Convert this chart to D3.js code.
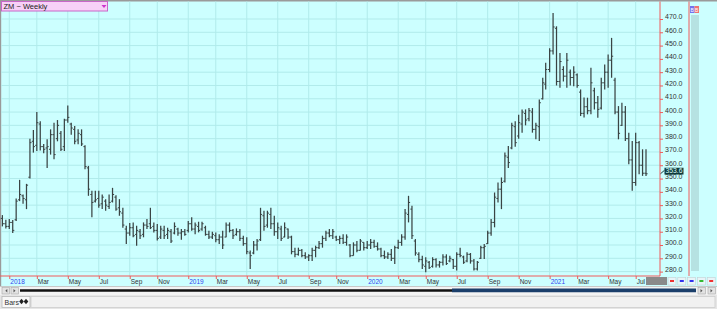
<!DOCTYPE html>
<html>
<head>
<meta charset="utf-8">
<script src="https://cdn.jsdelivr.net/npm/d3@7"></script>
<style>
  body { margin: 0; background: #fff; }
  svg { display: block; font-family: "Liberation Sans", Arial, sans-serif; }
</style>
</head>
<body>
<div id="chart"></div>
<script>
// weekly bars, Dec 22 2017 .. Jul 23 2021 (188 weeks)
const firstWeek = new Date(2017, 11, 22);
const lastWeek = new Date(2021, 6, 23);

const opens = [
  320, 316, 314, 317, 319, 334, 337, 334, 351, 378,   // -2..7
  375, 391, 374, 373, 372, 383, 380, 384, 374, 394,
  391, 387, 379, 383, 374, 358, 338, 333, 335, 331,
  333, 329, 333, 336, 328, 324, 312, 309, 313, 308,
  310, 308, 315, 316, 314, 311, 306, 311, 308, 310,
  309, 312, 309, 310, 311, 316, 312, 314, 312, 313,
  308, 306, 307, 304, 306, 306, 315, 311, 308, 310,
  305, 301, 294, 294, 300, 304, 322, 315, 323, 316,
  310, 312, 306, 312, 306, 295, 293, 296, 292, 291,
  292, 296, 298, 301, 305, 309, 307, 306, 304, 305,
  302, 300, 292, 300, 296, 302, 298, 300, 302, 299,
  297, 292, 291, 293, 290, 298, 302, 306, 323, 327,
  303, 293, 289, 284, 287, 284, 289, 285, 287, 291,
  288, 289, 284, 293, 291, 288, 293, 288, 282, 290,
  298, 301, 309, 317, 335, 342, 348, 366, 373, 389,
  382, 391, 399, 395, 400, 387, 389, 410, 421, 432,
  446, 463, 423, 432, 427, 430, 426, 428, 415, 399,
  404, 401, 416, 407, 403, 422, 430, 439, 424, 400,
  390, 400, 380, 364, 347, 377, 360, 354
];
const highs = [
  322.5, 319, 319.5, 318.8, 335, 349, 338, 346, 380, 386.5,
  400, 393, 376, 379.5, 387, 392, 394, 385.8, 395, 405,
  392, 389.5, 387, 387, 375, 359.5, 340.8, 340.8, 340.8, 338,
  334.5, 338, 343, 337.5, 334.5, 328, 314.5, 316.5, 317, 314.5,
  312, 317, 319.5, 328, 317, 315.8, 314.5, 314.5, 313, 312,
  317, 313, 312, 312, 318, 320.8, 317, 317.5, 317.5, 314.5,
  310.8, 310, 309.5, 308, 310.8, 317, 317, 312, 312.5, 312,
  307, 305.8, 295.8, 303, 304.5, 328, 325.8, 325.8, 328, 322,
  317, 314.5, 317, 312.5, 307, 298, 298, 297, 294.5, 293,
  298, 299.5, 303, 307, 310.8, 312, 312, 307, 307, 308,
  308, 300.8, 302, 303, 304.5, 302, 303, 304.5, 304, 302,
  298, 295.8, 294.5, 297, 299.5, 304, 308, 327, 337, 329.5,
  304.5, 294.5, 292, 290.8, 288, 290.8, 290, 288, 293, 293,
  292, 289.5, 294.5, 298, 292, 294.5, 294, 289.5, 288, 299.5,
  300.8, 310.8, 319.5, 339.5, 347, 350.8, 369.5, 374.5, 392, 393,
  398, 402, 402, 403, 403, 392, 409.5, 425.8, 437, 448,
  474.5, 464.5, 444.5, 434.5, 444.5, 432, 434.5, 429, 417, 411,
  410.8, 433.3, 418.3, 412, 425.8, 435.8, 443.3, 455.8, 425.8, 404.5,
  407, 404.5, 384.5, 378.3, 384.5, 378.3, 372, 372
];
const lows = [
  314, 312.5, 312, 309, 318, 333, 331, 327, 350, 369.5,
  370.8, 371, 369, 358, 368, 364.5, 378, 370.8, 370.8, 392,
  383, 375.8, 375.8, 374.5, 357, 337, 320.8, 332, 328, 327,
  325.8, 327, 332, 325.8, 322, 313, 300.8, 307, 305.8, 299.5,
  304.5, 305.8, 312, 312, 309.5, 303.3, 304.5, 304.5, 304.5, 301.5,
  308, 307, 304, 307, 309.5, 310.8, 308, 309.5, 310.8, 307,
  304.5, 304.5, 302, 300.8, 297, 305.8, 309.5, 304.5, 307, 303,
  299.5, 293, 282, 293, 295.8, 303, 310.8, 313, 312, 307,
  304.5, 303, 305.8, 304.5, 293, 290.8, 292, 290.8, 289.5, 288,
  288, 290.8, 297, 298, 303, 305.8, 304.5, 303, 300.8, 300.8,
  299.5, 290.8, 292, 294.5, 295.8, 295.8, 297, 297, 298, 295.8,
  290.8, 289.5, 289.5, 288, 285.8, 297, 299.5, 304, 317, 304.5,
  292, 287, 282, 279.5, 282, 283, 283, 283, 284.5, 285,
  287, 282, 280.8, 290.8, 285.8, 287, 286, 280.8, 280.8, 289.5,
  289.5, 300.8, 307, 313.3, 332, 327, 347, 358, 372, 374,
  380, 384.5, 390, 393, 384.5, 379.5, 378.3, 409.5, 417, 430,
  443.3, 420, 418.3, 423, 418.3, 420, 419.5, 418.3, 397, 396,
  398.3, 398.3, 402, 395.8, 402, 417, 418.3, 425.8, 398.3, 379.5,
  389.5, 378.3, 360.8, 340.8, 344.5, 353.3, 352, 352
];
const closes = [
  316, 314, 317, 311, 333, 338, 335, 345, 377, 374,
  392, 374, 372, 374, 383, 368, 390, 372, 394, 396,
  388, 378, 384, 376, 359, 342, 332, 334, 330, 336,
  330, 332, 338, 327, 325, 315, 309, 313, 307, 311,
  307, 315, 314, 313, 311, 305, 312, 307, 311, 303,
  314, 309, 310, 308, 316, 312, 315, 311, 316, 308,
  306, 308, 304, 306, 300, 315, 311, 307, 310, 305,
  301, 295, 292, 300, 303, 323, 314, 324, 316, 310,
  313, 305, 313, 306, 295, 293, 296, 292, 291, 292,
  296, 298, 301, 305, 309, 307, 310, 304, 305, 302,
  306, 292, 300, 296, 303, 298, 300, 302, 299, 297,
  292, 291, 293, 290, 298, 302, 306, 324, 332, 307,
  294, 289, 285, 288, 283, 289, 285, 287, 291, 286,
  290, 284, 293, 292, 287, 293, 288, 282, 287, 298,
  299, 309, 317, 336, 342, 347, 367, 362, 390, 377,
  392, 400, 394, 401, 387, 390, 407, 422, 432, 446,
  464, 423, 438, 427, 439, 426, 430, 420, 399, 404,
  401, 422, 407, 402, 422, 430, 439, 442, 400, 384,
  400, 380, 364, 347, 377, 360, 354, 353.6
];

const yTicks = [280, 290, 300, 310, 320, 330, 340, 350, 360, 370,
  380, 390, 400, 410, 420, 430, 440, 450, 460, 470];
const lastPrice = 353.6;
const title = 'ZM ~ Weekly';

const W = 717, H = 309;
const plotRight = 660, axisBottom = 276;
const red = '#f05a5a';
const barColor = '#3a4444';

// bar dated by last trading day of week (new year's day 2021 -> Dec 31)
const weeks = d3.timeFriday.range(firstWeek, d3.timeDay.offset(lastWeek, 1))
  .map(d => +d === +new Date(2021, 0, 1) ? new Date(2020, 11, 31) : d);

const bars = weeks.map((d, i) => ({
  date: d, o: opens[i], h: highs[i], l: lows[i], c: closes[i]
}));

const x = d3.scaleTime()
  .domain([firstWeek, lastWeek])
  .range([2.4, 646]);
const y = d3.scaleLinear()
  .domain([280, 470])
  .range([271.6, 19]);

const monthTicks = weeks.filter((d, i) => i > 0 &&
  d.getMonth() !== weeks[i - 1].getMonth() && d.getMonth() % 2 === 0);

const svg = d3.select('#chart').append('svg')
  .attr('width', W)
  .attr('height', H);

// backgrounds
svg.append('rect').attr('width', W).attr('height', 287).attr('fill', '#ccffff');
svg.append('rect').attr('width', W).attr('height', 1.5).attr('fill', '#9a9a9a');
svg.append('rect').attr('width', 1.2).attr('height', 287).attr('fill', '#9a9a9a');

// grid
const grid = svg.append('g');
grid.selectAll('.hg')
  .data(yTicks)
  .enter()
  .append('line')
    .attr('x1', 1).attr('x2', plotRight)
    .attr('y1', d => y(d)).attr('y2', d => y(d))
    .attr('stroke', '#b0ebeb').attr('stroke-width', 1);
grid.selectAll('.vg')
  .data(monthTicks)
  .enter()
  .append('line')
    .attr('x1', d => x(d)).attr('x2', d => x(d))
    .attr('y1', 1.5).attr('y2', axisBottom)
    .attr('stroke', '#b0ebeb').attr('stroke-width', 1);

// OHLC bars
const g = svg.append('g')
  .attr('stroke', barColor)
  .attr('stroke-width', 1.25);
g.selectAll('.hl')
  .data(bars)
  .enter()
  .append('line')
    .attr('x1', d => x(d.date)).attr('x2', d => x(d.date))
    .attr('y1', d => y(d.h)).attr('y2', d => y(d.l));
g.selectAll('.op')
  .data(bars)
  .enter()
  .append('line')
    .attr('x1', d => x(d.date) - 1.6).attr('x2', d => x(d.date))
    .attr('y1', d => y(d.o)).attr('y2', d => y(d.o))
    .attr('stroke-width', 1);
g.selectAll('.cl')
  .data(bars)
  .enter()
  .append('line')
    .attr('x1', d => x(d.date)).attr('x2', d => x(d.date) + 1.6)
    .attr('y1', d => y(d.c)).attr('y2', d => y(d.c))
    .attr('stroke-width', 1);

// y axis (right)
const yAxis = svg.append('g')
  .attr('transform', `translate(${plotRight},0)`)
  .call(d3.axisRight(y).tickValues(yTicks).tickFormat(d3.format('.1f')).tickSize(3).tickPadding(2));
yAxis.select('.domain').remove();
yAxis.selectAll('line').attr('stroke', red);
yAxis.selectAll('text')
  .attr('y', -2.3)
  .style('font-size', '7px')
  .attr('fill', '#333');

// x axis
const xAxis = svg.append('g')
  .attr('transform', `translate(0,${axisBottom})`)
  .call(d3.axisBottom(x).tickValues(monthTicks).tickSize(3).tickPadding(2)
    .tickFormat(d => d.getMonth() === 0 ? d3.timeFormat('%Y')(d) : d3.timeFormat('%b')(d)));
xAxis.select('.domain').remove();
xAxis.selectAll('line').attr('stroke', red);
xAxis.selectAll('text')
  .attr('text-anchor', 'start')
  .attr('x', 0.5)
  .attr('y', 3)
  .style('font-size', '6.5px')
  .attr('fill', d => d.getMonth() === 0 ? '#3344ee' : '#333');

// frame lines
svg.append('line')
  .attr('x1', 0).attr('x2', plotRight)
  .attr('y1', axisBottom).attr('y2', axisBottom)
  .attr('stroke', red).attr('stroke-width', 1);
svg.append('line')
  .attr('x1', plotRight).attr('x2', plotRight)
  .attr('y1', 1.5).attr('y2', axisBottom)
  .attr('stroke', red).attr('stroke-width', 1);
svg.append('line')
  .attr('x1', 689).attr('x2', 689)
  .attr('y1', 1.5).attr('y2', axisBottom)
  .attr('stroke', red).attr('stroke-width', 1);
svg.append('rect')
  .attr('x', 691).attr('y', 15).attr('width', 8).attr('height', 256)
  .attr('fill', '#b6e2e2');

// small icons top right
svg.append('rect').attr('x', 690).attr('y', 6).attr('width', 4.5).attr('height', 7).attr('fill', '#7373ee');
svg.append('rect').attr('x', 694.5).attr('y', 6).attr('width', 4.5).attr('height', 7).attr('fill', '#ee7373');
svg.selectAll('.ic')
  .data([692.2, 696.7])
  .enter()
  .append('text')
    .attr('x', d => d).attr('y', 11.7)
    .attr('text-anchor', 'middle')
    .style('font-size', '5px')
    .attr('fill', '#fff')
    .text('B');

// last price marker
const yl = y(lastPrice);
svg.append('line')
  .attr('x1', 660.5).attr('x2', 664.5)
  .attr('y1', yl).attr('y2', yl - 3.5)
  .attr('stroke', '#1c3c3c').attr('stroke-width', 1);
svg.append('rect')
  .attr('x', 664.5).attr('y', yl - 6).attr('width', 19).attr('height', 6.8)
  .attr('fill', '#0f3a3a');
svg.append('text')
  .attr('x', 665.5).attr('y', yl - 0.4)
  .style('font-size', '6.8px')
  .attr('fill', '#dff')
  .text(d3.format('.1f')(lastPrice));

// title box
svg.append('rect')
  .attr('x', 1.5).attr('y', 1.5).attr('width', 106).attr('height', 9.5)
  .attr('fill', '#f7d0f7').attr('stroke', '#c866c8').attr('stroke-width', 1);
svg.append('text')
  .attr('x', 3.5).attr('y', 9)
  .style('font-size', '7.5px')
  .attr('fill', '#222')
  .text(title);
svg.append('path')
  .attr('d', 'M101.5,5 L106.5,5 L104,8 Z')
  .attr('fill', '#cc33cc');

// under-axis widgets
svg.append('rect').attr('x', 646).attr('y', 277).attr('width', 21).attr('height', 8).attr('fill', '#8a8a8a');
const btnColors = ['#e33', '#33e', '#33e', '#3b3', '#e33'];
svg.selectAll('.btn')
  .data(btnColors)
  .enter()
  .append('rect')
    .attr('x', (d, i) => 668 + i * 9.8).attr('y', 277.5)
    .attr('width', 8).attr('height', 7.5)
    .attr('fill', '#e8f4f8').attr('stroke', '#c4d0d4').attr('stroke-width', 0.6);
svg.selectAll('.btng')
  .data(btnColors)
  .enter()
  .append('rect')
    .attr('x', (d, i) => 670 + i * 9.8).attr('y', 280)
    .attr('width', 4).attr('height', 2)
    .attr('fill', d => d);

// scrollbar row
svg.append('rect').attr('y', 286).attr('width', W).attr('height', 1).attr('fill', '#c8c8c8');
svg.append('rect').attr('y', 287).attr('width', W).attr('height', 8).attr('fill', '#f3f3f3');
svg.selectAll('.sb')
  .data([2, 11, 698, 708])
  .enter()
  .append('rect')
    .attr('x', d => d).attr('y', 287.5)
    .attr('width', 7.5).attr('height', 6.5)
    .attr('fill', '#e2e2e2').attr('stroke', '#a8a8a8').attr('stroke-width', 0.6);
svg.selectAll('.sbt')
  .data([[7.3, -1], [13.5, 1], [700.5, 1], [710.5, 1]])
  .enter()
  .append('path')
    .attr('d', d => `M${d[0]},${289} L${d[0] + d[1] * 2},${290.7} L${d[0]},${292.4} Z`)
    .attr('fill', '#555');
svg.append('line')
  .attr('x1', 20).attr('x2', 452).attr('y1', 290.5).attr('y2', 290.5)
  .attr('stroke', '#111').attr('stroke-width', 2.4);
svg.append('line')
  .attr('x1', 452).attr('x2', 696).attr('y1', 290.3).attr('y2', 290.3)
  .attr('stroke', '#1b3f6b').attr('stroke-width', 3.8);

// bottom tab row
svg.append('rect').attr('y', 295).attr('width', W).attr('height', 14).attr('fill', '#e6e6e6');
svg.append('rect')
  .attr('x', 31).attr('y', 296.5).attr('width', 684).attr('height', 11)
  .attr('fill', '#f1f1f1').attr('stroke', '#cdcdcd').attr('stroke-width', 0.8);
svg.append('rect')
  .attr('x', 2).attr('y', 296.5).attr('width', 28).attr('height', 11)
  .attr('fill', '#f8f8f8').attr('stroke', '#b8b8b8').attr('stroke-width', 0.8);
svg.append('text')
  .attr('x', 4.5).attr('y', 304.8)
  .style('font-size', '7px')
  .attr('fill', '#333')
  .text('Bars');
svg.selectAll('.tabic')
  .data([21.5, 26])
  .enter()
  .append('path')
    .attr('d', d => `M${d},298.8 L${d + 2.3},301.5 L${d},304.2 L${d - 2.3},301.5 Z`)
    .attr('fill', '#222');
</script>
</body>
</html>
